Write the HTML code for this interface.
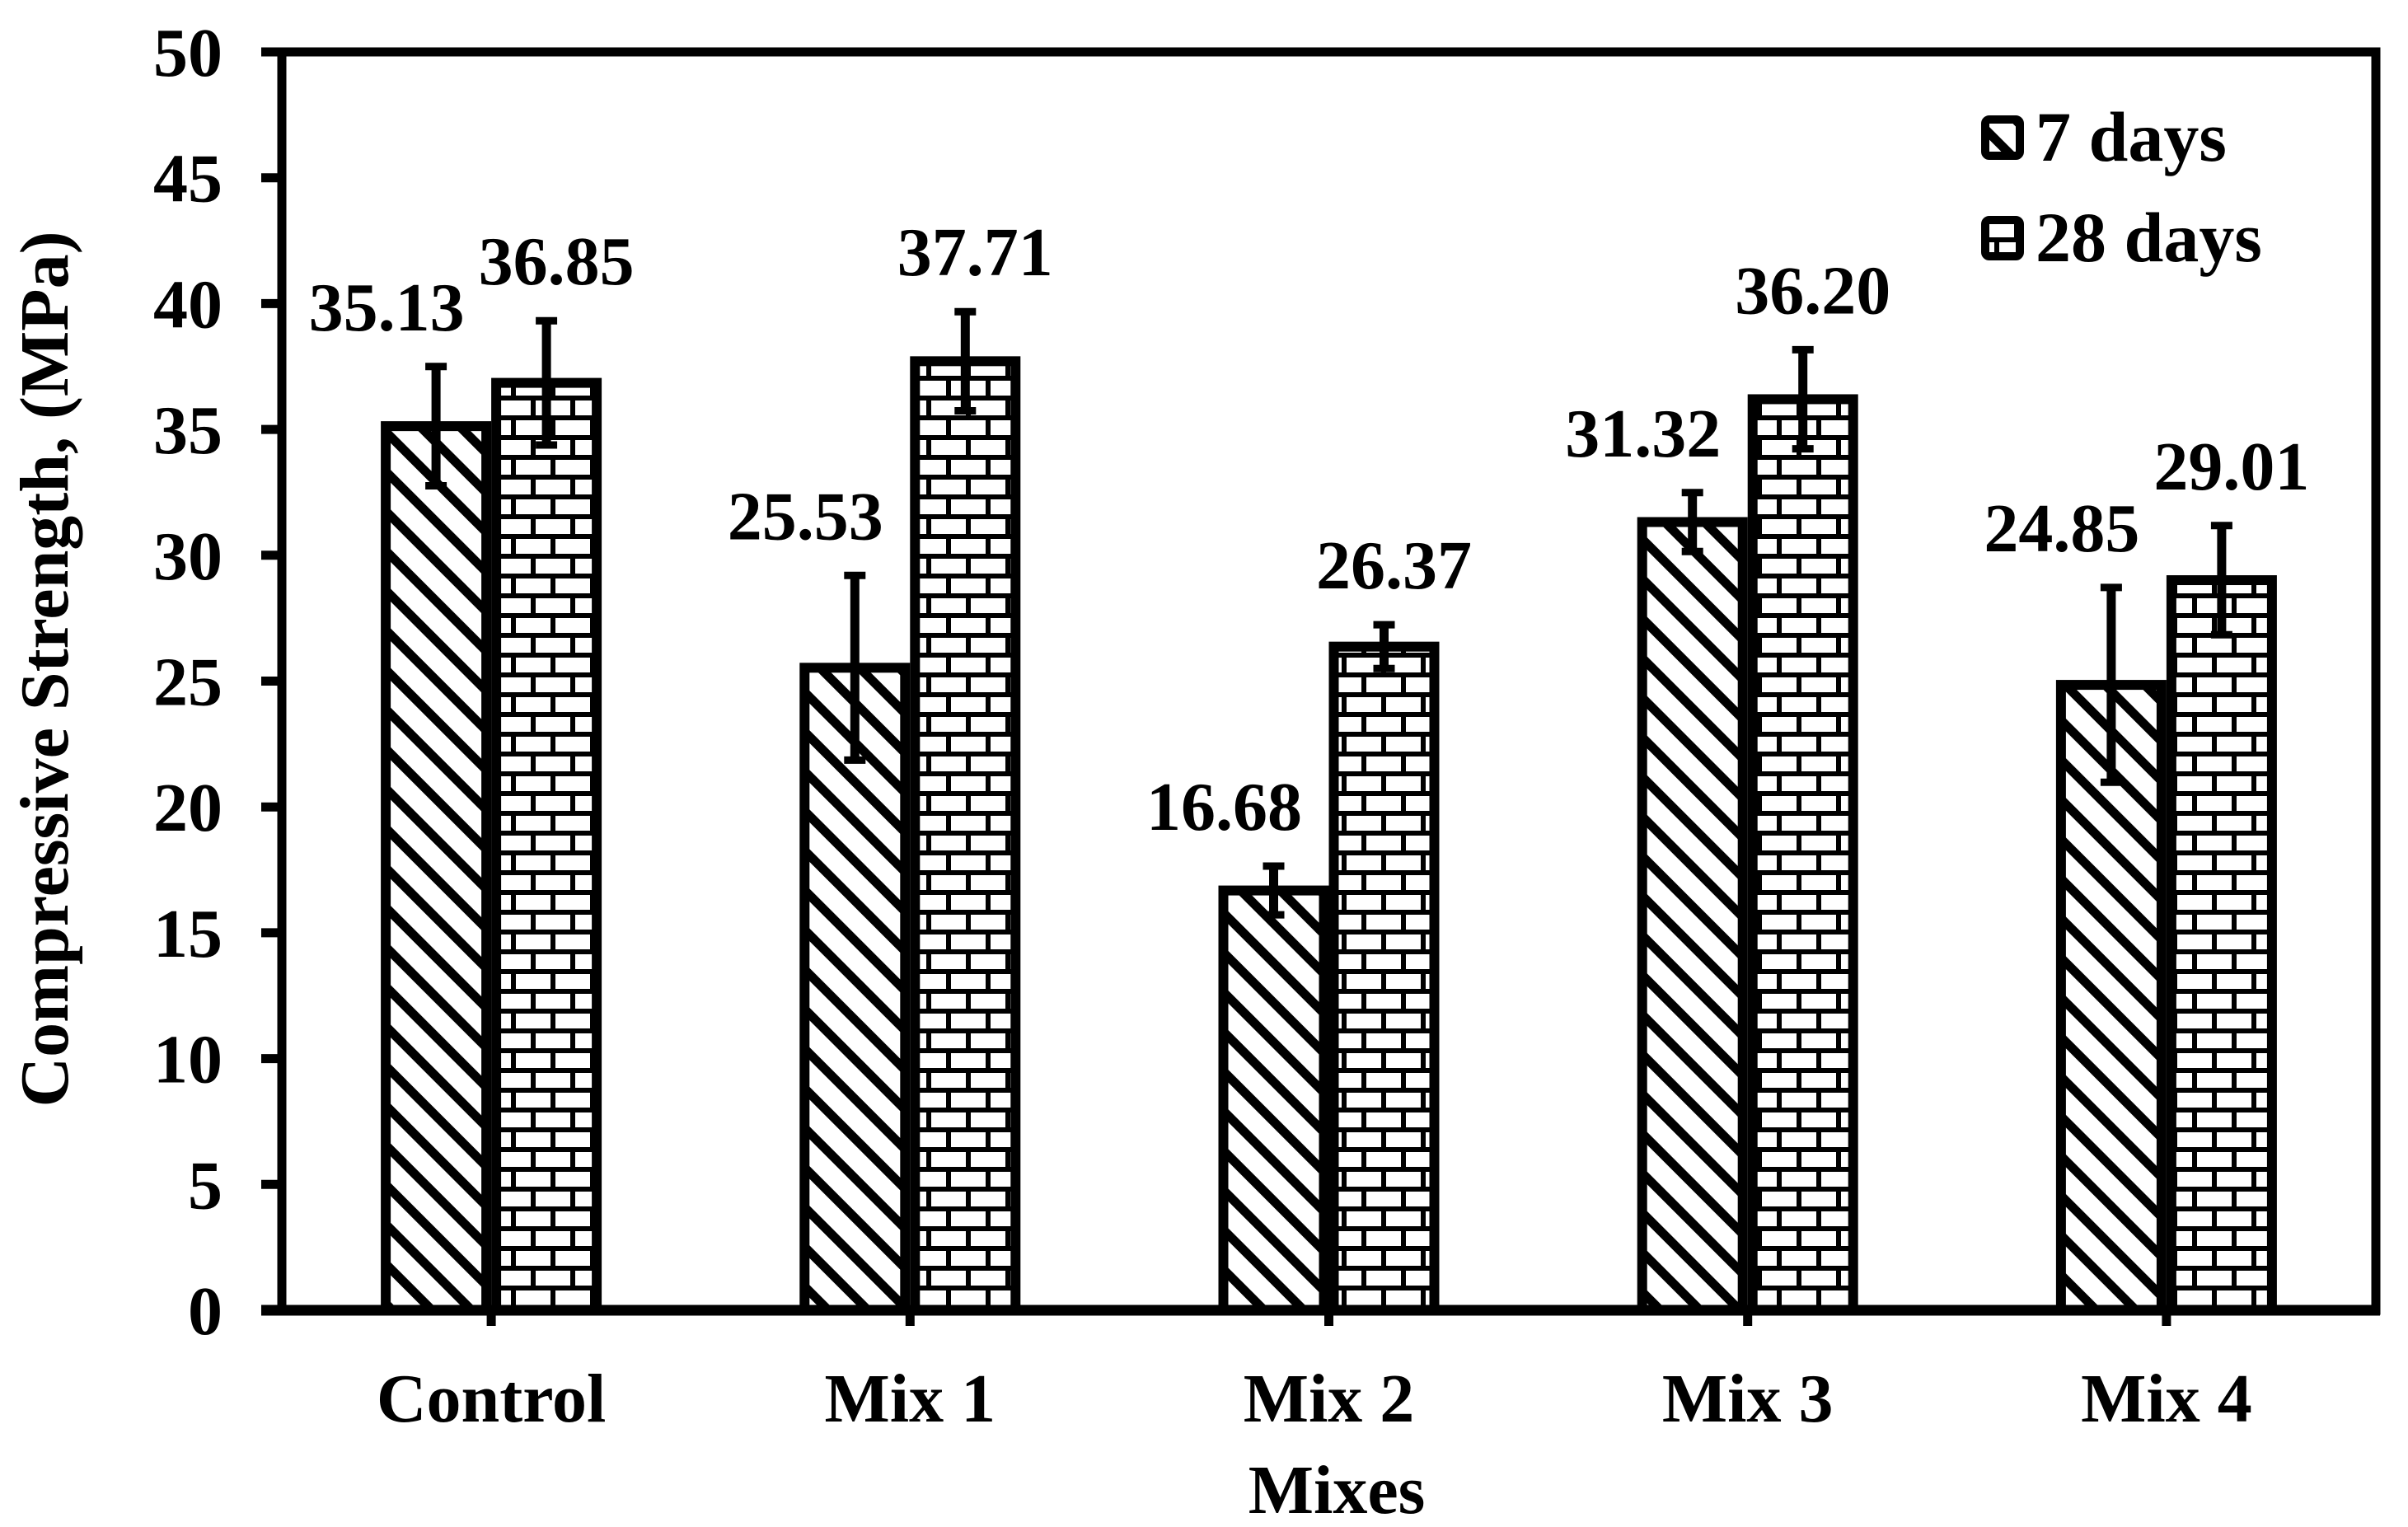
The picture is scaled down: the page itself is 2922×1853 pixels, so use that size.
<!DOCTYPE html>
<html><head><meta charset="utf-8"><style>
html,body{margin:0;padding:0;background:#fff;}
svg{display:block;font-family:"Liberation Serif",serif;font-weight:bold;}
</style></head><body>
<svg id="chart" width="2922" height="1853" viewBox="0 0 2922 1853" xmlns="http://www.w3.org/2000/svg">
<defs>
<pattern id="stripes" patternUnits="userSpaceOnUse" width="34" height="34" patternTransform="rotate(45)">
<rect width="34" height="34" fill="#fff"/>
<rect x="0" y="0" width="34" height="11" fill="#000"/>
</pattern>
<pattern id="bricks" patternUnits="userSpaceOnUse" width="96" height="48" x="0" y="0">
<rect width="96" height="48" fill="#fff"/>
<rect x="0" y="0" width="96" height="6" fill="#000"/>
<rect x="0" y="24" width="96" height="6" fill="#000"/>
<rect x="20" y="0" width="6" height="24" fill="#000"/>
<rect x="68" y="0" width="6" height="24" fill="#000"/>
<rect x="44" y="24" width="6" height="24" fill="#000"/>
<rect x="92" y="24" width="4" height="24" fill="#000"/>
<rect x="0" y="24" width="2" height="24" fill="#000"/>
</pattern>
</defs>
<g id="plot"></g>
</svg>
<script>
const categories = ["Control","Mix 1","Mix 2","Mix 3","Mix 4"];
const days7 = [35.13,25.53,16.68,31.32,24.85];
const days28 = [36.85,37.71,26.37,36.20,29.01];
const err7 = [2.5,3.8,1.1,1.3,4.0];
const err28 = [2.6,2.1,1.0,2.1,2.3];
const labels7 = ["35.13","25.53","16.68","31.32","24.85"];
const labels28 = ["36.85","37.71","26.37","36.20","29.01"];
const yTicks = [0,5,10,15,20,25,30,35,40,45,50];

const NS="http://www.w3.org/2000/svg";
const g=document.getElementById('plot');
const L=342,R=2883,T=63,B=1590,yMax=50;
function y(v){return B-(v/yMax)*(B-T);}
const gw=(R-L)/categories.length;
function xc(i){return L+gw*(i+0.5);}
const bw=134;
function mk(tag,attrs,parent){const e=document.createElementNS(NS,tag);for(const k in attrs)e.setAttribute(k,attrs[k]);(parent||g).appendChild(e);return e;}

const frame=mk('rect',{x:L,y:T,width:R-L,height:B-T,fill:'none',stroke:'#000','stroke-width':11});



function drawBar(i,v,e,lab,series,left){
  const x0=left?xc(i)-bw:xc(i);
  const r=mk('rect',{x:x0+6,y:y(v),width:bw-12,height:B-y(v),fill:series==='7d'?'url(#stripes)':'url(#bricks)',stroke:'#000','stroke-width':12});
  
  
  const cx=x0+bw/2;
  const eg=mk('g',{});
  
  
  mk('line',{x1:cx,x2:cx,y1:y(v+e),y2:y(v-e),stroke:'#000','stroke-width':11},eg);
  mk('line',{x1:cx-13,x2:cx+13,y1:y(v+e)+4,y2:y(v+e)+4,stroke:'#000','stroke-width':9},eg);
  mk('line',{x1:cx-13,x2:cx+13,y1:y(v-e)-4,y2:y(v-e)-4,stroke:'#000','stroke-width':9},eg);
  const t=mk('text',{x:left?cx-60:cx+12,y:y(v+e)-40,'text-anchor':'middle','font-size':84});
  t.textContent=lab;
  
  
}
for(let i=0;i<categories.length;i++){
  drawBar(i,days7[i],err7[i],labels7[i],'7d',true);
  drawBar(i,days28[i],err28[i],labels28[i],'28d',false);
}

const ya=mk('line',{x1:L,x2:L,y1:T-5,y2:B+6,stroke:'#000','stroke-width':11});


const xa=mk('line',{x1:L-25,x2:R+5,y1:B,y2:B,stroke:'#000','stroke-width':13});



yTicks.forEach(v=>{
  const tk=mk('line',{x1:317,x2:L,y1:y(v),y2:y(v),stroke:'#000','stroke-width':11});
  
  
  const t=mk('text',{x:270,y:y(v)+29,'text-anchor':'end','font-size':84});
  t.textContent=v;
  
  
});
categories.forEach((c,i)=>{
  const tk=mk('line',{x1:xc(i),x2:xc(i),y1:B,y2:1609,stroke:'#000','stroke-width':11});
  
  
  const t=mk('text',{x:xc(i),y:1725,'text-anchor':'middle','font-size':84});
  t.textContent=c;
  
  
});
</script>
<svg style="position:absolute;left:0;top:0" width="2922" height="1853" xmlns="http://www.w3.org/2000/svg" font-family="Liberation Serif, serif" font-weight="bold">
<text x="1622" y="1836" text-anchor="middle" font-size="84">Mixes</text>
<text transform="translate(82,812) rotate(-90)" text-anchor="middle" font-size="84">Compressive Strength, (MPa)</text>
<g>
<g>
<rect x="2409" y="145" width="42" height="44" rx="5" fill="url(#stripes)" stroke="#000" stroke-width="10"/>
<text x="2470" y="195" font-size="86">7 days</text>
</g>
<g>
<rect x="2409" y="267" width="42" height="44" rx="5" fill="url(#bricks)" stroke="#000" stroke-width="10"/>
<text x="2470" y="317" font-size="86">28 days</text>
</g>
</g>
</svg>
</body></html>
